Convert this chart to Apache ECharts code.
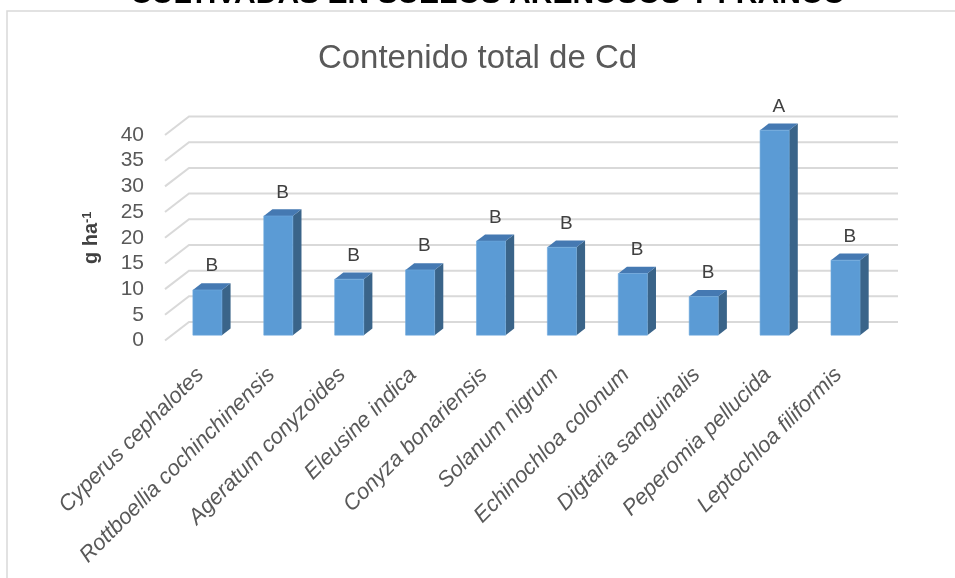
<!DOCTYPE html>
<html>
<head>
<meta charset="utf-8">
<script src="https://cdn.jsdelivr.net/npm/echarts@6/dist/echarts.min.js"></script>
<style>
  html, body { margin: 0; padding: 0; background: #ffffff; }
  #chart { width: 955px; height: 578px; }
</style>
</head>
<body>
<div id="chart"></div>
<script>
// Species sampled and their total Cd content (g ha-1), with Tukey groups
const categories = [
  'Cyperus cephalotes', 'Rottboellia cochinchinensis', 'Ageratum conyzoides',
  'Eleusine indica', 'Conyza bonariensis', 'Solanum nigrum',
  'Echinochloa colonum', 'Digtaria sanguinalis', 'Peperomia pellucida',
  'Leptochloa filiformis'
];
const cdValues = [8.8, 23.2, 10.9, 12.7, 18.3, 17.1, 12.0, 7.5, 39.9, 14.6];
const groupLetters = ['B', 'B', 'B', 'B', 'B', 'B', 'B', 'B', 'A', 'B'];
const yTicks = [0, 5, 10, 15, 20, 25, 30, 35, 40];

const FONT = 'Liberation Sans';
// floor depth vector of the pseudo-3D box (front plane -> back wall)
const FX = 24, FY = -18.5;
const BAR_FRONT = 0.29;  // depth where the column front faces sit
const BAR_DEPTH = 0.36;  // column depth as a fraction of the floor depth

const chart = echarts.init(document.getElementById('chart'), null, { renderer: 'canvas' });

const barData = cdValues.map((v, i) => [i, v, groupLetters[i]]);
const gridData = yTicks.map(v => [0, v]);

const option = {
  backgroundColor: '#ffffff',
  animation: false,
  title: {
    text: 'Contenido total de Cd',
    left: 'center',
    top: 37,
    textStyle: { fontFamily: FONT, fontSize: 33, fontWeight: 'normal', color: '#595959' }
  },
  graphic: [
    {
      type: 'rect',
      shape: { x: 7, y: 11, width: 1000, height: 620 },
      style: { fill: null, stroke: '#d9d9d9', lineWidth: 1.5 },
      silent: true
    },
    {
      type: 'text',
      x: 488, y: 10,
      style: {
        text: 'CULTIVADAS EN SUELOS ARENOSOS Y FRANCO',
        fontFamily: FONT, fontSize: 30, fontWeight: 'bold', fill: '#000000',
        align: 'center', verticalAlign: 'bottom'
      },
      silent: true
    }
  ],
  grid: { left: 165, top: 135, width: 709, height: 205.5 },
  xAxis: {
    type: 'category',
    data: categories,
    axisLine: { show: false },
    axisTick: { show: false },
    axisLabel: {
      rotate: 45,
      interval: 0,
      margin: 31,
      fontFamily: FONT,
      fontSize: 22,
      fontStyle: 'italic',
      color: '#595959'
    }
  },
  yAxis: {
    type: 'value',
    min: 0,
    max: 40,
    interval: 5,
    axisLine: { show: false },
    axisTick: { show: false },
    splitLine: { show: false },
    axisLabel: { fontFamily: FONT, fontSize: 21, color: '#595959', margin: 21 },
    name: '{b|g ha}{s|-1}',
    nameLocation: 'middle',
    nameRotate: 90,
    nameGap: 64,
    nameTextStyle: {
      rich: {
        b: { fontFamily: FONT, fontSize: 20, fontWeight: 'bold', color: '#404040' },
        s: { fontFamily: FONT, fontSize: 13, fontWeight: 'bold', color: '#404040', verticalAlign: 'top' }
      }
    }
  },
  series: [
    {
      // back wall gridlines with their diagonal floor connectors
      type: 'custom',
      z: 1,
      silent: true,
      clip: false,
      data: gridData,
      renderItem: function (params, api) {
        const cs = params.coordSys;
        const y = api.coord([0, api.value(1)])[1];
        return {
          type: 'polyline',
          shape: {
            points: [
              [cs.x, y],
              [cs.x + FX, y + FY],
              [cs.x + cs.width + FX, y + FY]
            ]
          },
          style: { stroke: '#d9d9d9', lineWidth: 2, fill: null }
        };
      }
    },
    {
      // pseudo-3D columns with group letters
      type: 'custom',
      z: 2,
      clip: false,
      data: barData,
      renderItem: function (params, api) {
        const idx = api.value(0);
        const base = api.coord([idx, 0]);
        const top = api.coord([idx, api.value(1)]);
        const band = api.size([1, 0])[0];
        const w = band * 0.41;
        const ox = FX * BAR_FRONT, oy = FY * BAR_FRONT;
        const dx = FX * BAR_DEPTH, dy = FY * BAR_DEPTH;
        const x0 = base[0] - w / 2 + ox;
        const x1 = x0 + w;
        const yb = base[1] + oy;
        const yt = top[1] + oy;
        return {
          type: 'group',
          children: [
            {
              type: 'polygon',
              shape: { points: [[x1, yb], [x1 + dx, yb + dy], [x1 + dx, yt + dy], [x1, yt]] },
              style: { fill: '#3a6489' }
            },
            {
              type: 'polygon',
              shape: { points: [[x0, yt], [x1, yt], [x1 + dx, yt + dy], [x0 + dx, yt + dy]] },
              style: { fill: '#4579b2' }
            },
            {
              type: 'rect',
              shape: { x: x0, y: yt, width: w, height: yb - yt },
              style: { fill: '#5b9bd5', stroke: '#6fa9dd', lineWidth: 0.6 }
            },
            {
              type: 'text',
              x: x0 + w / 2 + dx / 2,
              y: yt + dy - 17,
              style: {
                text: api.value(2),
                fontFamily: FONT, fontSize: 19, fill: '#404040',
                align: 'center', verticalAlign: 'middle'
              }
            }
          ]
        };
      }
    }
  ]
};

chart.setOption(option);
</script>
</body>
</html>
